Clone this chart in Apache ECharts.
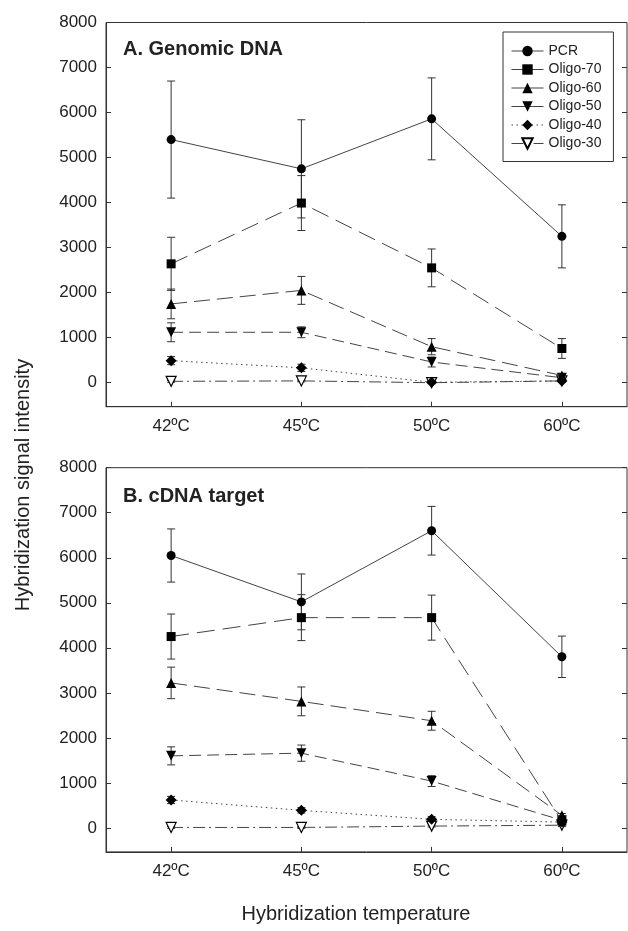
<!DOCTYPE html>
<html><head><meta charset="utf-8">
<script src="https://cdn.jsdelivr.net/npm/echarts@6/dist/echarts.min.js"></script>
<style>html,body{margin:0;padding:0;background:#fff}#c{width:628px;height:931px}</style>
</head><body><div id="c"></div>
<script>
// ---------- data ----------
const categories = ['42ºC', '45ºC', '50ºC', '60ºC'];
const seriesNames = ['PCR', 'Oligo-70', 'Oligo-60', 'Oligo-50', 'Oligo-40', 'Oligo-30'];
const yTickLabels = ['0', '1000', '2000', '3000', '4000', '5000', '6000', '7000', '8000'];

// Panel A: Genomic DNA (mean values and error half-widths)
const genomicPCR      = [5400, 4750, 5860, 3250];
const genomicPCRErr   = [1300, 1090, 910, 700];
const genomicO70      = [2640, 3990, 2550, 760];
const genomicO70Err   = [590, 610, 420, 220];
const genomicO60      = [1750, 2050, 800, 160];
const genomicO60Err   = [330, 310, 180, 40];
const genomicO50      = [1120, 1120, 460, 110];
const genomicO50Err   = [210, 120, 110, 30];
const genomicO40      = [490, 330, 10, 40];
const genomicO40Err   = [90, 80, 30, 30];
const genomicO30      = [30, 40, 0, 40];
const genomicO30Err   = [20, 20, 20, 20];

// Panel B: cDNA target
const cdnaPCR      = [6050, 5020, 6600, 3800];
const cdnaPCRErr   = [590, 620, 540, 460];
const cdnaO70      = [4250, 4670, 4670, 150];
const cdnaO70Err   = [500, 510, 500, 40];
const cdnaO60      = [3220, 2810, 2380, 280];
const cdnaO60Err   = [350, 320, 210, 40];
const cdnaO50      = [1600, 1660, 1040, 170];
const cdnaO50Err   = [200, 180, 120, 40];
const cdnaO40      = [620, 390, 190, 130];
const cdnaO40Err   = [80, 60, 60, 40];
const cdnaO30      = [10, 10, 40, 60];
const cdnaO30Err   = [20, 20, 20, 30];

// ---------- styles ----------
const FONT = '"Liberation Sans", Arial, sans-serif';
const INK = '#222';
const LINE = '#444';
const styles = [
  { symbol: 'circle',   size: 9,  rotate: 0,   dash: 'solid',        fill: '#000', legendDash: 'solid' },
  { symbol: 'rect',     size: 9,  rotate: 0,   dash: [18, 8],        fill: '#000', legendDash: 'solid' },
  { symbol: 'triangle', size: 10, rotate: 0,   dash: [16, 7],        fill: '#000', legendDash: 'solid' },
  { symbol: 'triangle', size: 10, rotate: 180, dash: [12, 6],        fill: '#000', legendDash: 'solid' },
  { symbol: 'diamond',  size: 11, rotate: 0,   dash: [1.5, 3.5],     fill: '#000', legendDash: [1.5, 3.5] },
  { symbol: 'triangle', size: 10, rotate: 180, dash: [12, 4, 2, 4],  fill: '#fff', legendDash: [12, 4, 2, 4] }
];

const panels = [
  { values: [genomicPCR, genomicO70, genomicO60, genomicO50, genomicO40, genomicO30],
    errs:   [genomicPCRErr, genomicO70Err, genomicO60Err, genomicO50Err, genomicO40Err, genomicO30Err] },
  { values: [cdnaPCR, cdnaO70, cdnaO60, cdnaO50, cdnaO40, cdnaO30],
    errs:   [cdnaPCRErr, cdnaO70Err, cdnaO60Err, cdnaO50Err, cdnaO40Err, cdnaO30Err] }
];

const Y_MIN = -533, Y_MAX = 8000;
const gridTops = [22.5, 467.7];
const GRID_H = 384.2;

const grids = gridTops.map(t => ({
  left: 106, right: 1, top: t, height: GRID_H, show: true,
  borderColor: '#333', borderWidth: 1, backgroundColor: 'transparent', containLabel: false
}));

const xAxes = [0, 1].map(g => ({
  type: 'category', gridIndex: g, data: categories, boundaryGap: true,
  axisLine: { show: true, onZero: false, lineStyle: { color: '#333', width: 1 } },
  axisTick: { show: true, inside: true, length: 5, alignWithLabel: true, lineStyle: { color: '#333' } },
  axisLabel: { fontSize: 17, color: INK, fontFamily: FONT, margin: 11 },
  splitLine: { show: false }
}));

const yAxes = [];
[0, 1].forEach(g => {
  yAxes.push({
    type: 'value', gridIndex: g, min: Y_MIN, max: Y_MAX, splitNumber: 8, position: 'left',
    axisLine: { show: true, onZero: false, lineStyle: { color: '#333', width: 1 } },
    axisTick: { show: true, inside: true, length: 5, lineStyle: { color: '#333' } },
    axisLabel: { fontSize: 17, color: INK, fontFamily: FONT, margin: 9,
      formatter: v => (v < 0 ? '' : (yTickLabels[Math.round(v / 1000)] || '')) },
    splitLine: { show: false }
  });
  yAxes.push({
    type: 'value', gridIndex: g, min: Y_MIN, max: Y_MAX, splitNumber: 8, position: 'right',
    axisLine: { show: false },
    axisTick: { show: true, inside: true, length: 5, lineStyle: { color: '#333' } },
    axisLabel: { show: false },
    splitLine: { show: false }
  });
});

const series = [];
panels.forEach((p, g) => {
  p.values.forEach((vals, k) => {
    const err = p.errs[k];
    series.push({
      type: 'custom', xAxisIndex: g, yAxisIndex: g * 2, silent: true, z: 2,
      data: vals.map((v, i) => [i, v - err[i], v + err[i]]),
      encode: { x: 0, y: [1, 2] },
      renderItem: (params, api) => {
        const x = api.value(0);
        const lo = api.coord([x, api.value(1)]);
        const hi = api.coord([x, api.value(2)]);
        const w = 4;
        const st = { stroke: '#333', lineWidth: 1 };
        return { type: 'group', children: [
          { type: 'line', shape: { x1: lo[0], y1: lo[1], x2: hi[0], y2: hi[1] }, style: st },
          { type: 'line', shape: { x1: lo[0] - w, y1: lo[1], x2: lo[0] + w, y2: lo[1] }, style: st },
          { type: 'line', shape: { x1: hi[0] - w, y1: hi[1], x2: hi[0] + w, y2: hi[1] }, style: st }
        ] };
      }
    });
  });
  p.values.forEach((vals, k) => {
    const s = styles[k];
    series.push({
      type: 'line', name: seriesNames[k], xAxisIndex: g, yAxisIndex: g * 2, z: 3 + (5 - k) * 0.01,
      data: vals, symbol: s.symbol, symbolSize: s.size, symbolRotate: s.rotate, showAllSymbol: true,
      itemStyle: { color: s.fill, borderColor: '#000', borderWidth: s.fill === '#fff' ? 1.2 : 0, opacity: 1 },
      lineStyle: { color: LINE, width: 1, type: s.dash },
      emphasis: { disabled: true }
    });
  });
});

const option = {
  animation: false,
  backgroundColor: '#fff',
  textStyle: { fontFamily: FONT },
  grid: grids,
  xAxis: xAxes,
  yAxis: yAxes,
  legend: {
    show: true, orient: 'vertical', left: 503, top: 32,
    data: seriesNames.map((n, k) => ({ name: n, lineStyle: { type: styles[k].legendDash, color: LINE, width: 1 } })),
    itemWidth: 32, itemHeight: 13, itemGap: 4.5, padding: [12, 12, 11, 8],
    borderColor: '#333', borderWidth: 1, backgroundColor: '#fff',
    textStyle: { fontSize: 14, color: INK, fontFamily: FONT },
    selectedMode: false
  },
  graphic: [
    { type: 'text', left: 123, top: 39, style: { text: 'A. Genomic DNA', font: 'bold 20px ' + FONT, fill: INK } },
    { type: 'text', left: 123, top: 486, style: { text: 'B. cDNA target', font: 'bold 20px ' + FONT, fill: INK } },
    { type: 'text', x: 23, y: 485, rotation: Math.PI / 2,
      style: { text: 'Hybridization signal intensity', font: '20px ' + FONT, fill: INK,
        align: 'center', verticalAlign: 'middle', textAlign: 'center', textVerticalAlign: 'middle' } },
    { type: 'text', x: 356, y: 914,
      style: { text: 'Hybridization temperature', font: '20px ' + FONT, fill: INK,
        align: 'center', verticalAlign: 'middle', textAlign: 'center', textVerticalAlign: 'middle' } }
  ],
  series: series
};

const chart = echarts.init(document.getElementById('c'), null, { renderer: 'canvas' });
chart.setOption(option);
</script>
</body></html>
